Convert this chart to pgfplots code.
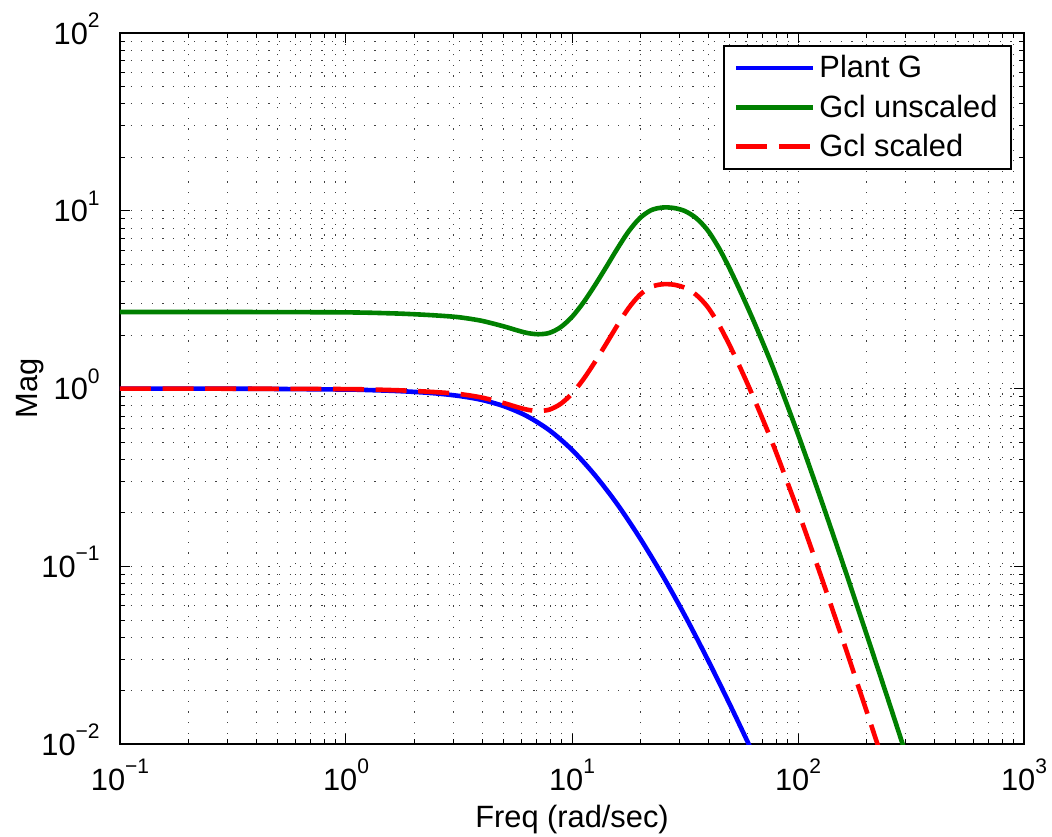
\documentclass[border=0pt]{standalone}
\usepackage{fontspec}
\setmainfont{Liberation Sans}
\usepackage{pgfplots}
\pgfplotsset{compat=1.18}
\definecolor{mgreen}{rgb}{0,0.5,0}
\newcommand\fs{\fontsize{15.4}{18}\selectfont}
\newcommand\tkl[1]{10\raisebox{8.3pt}{\fontsize{10.5}{10.5}\selectfont #1}}
\begin{document}
\begin{tikzpicture}
\useasboundingbox (-60pt,-45.85pt) rectangle (466pt,372.15pt);
\begin{axis}[
  at={(0,0)}, anchor=south west,
  scale only axis, width=452pt, height=355.65pt,
  xmode=log, ymode=log,
  xmin=0.1, xmax=1000, ymin=0.01, ymax=100,
  xtick={0.1,1,10,100,1000},
  xticklabels={\tkl{−1},\tkl{0},\tkl{1},\tkl{2},\tkl{3}},
  ytick={0.01,0.1,1,10,100},
  yticklabels={\tkl{−2},\tkl{−1},\tkl{0},\tkl{1},\tkl{2}},
  minor xtick={0.2,0.3,0.4,0.5,0.6,0.7,0.8,0.9,2,3,4,5,6,7,8,9,20,30,40,50,60,70,80,90,200,300,400,500,600,700,800,900},
  minor ytick={0.02,0.03,0.04,0.05,0.06,0.07,0.08,0.09,0.2,0.3,0.4,0.5,0.6,0.7,0.8,0.9,2,3,4,5,6,7,8,9,20,30,40,50,60,70,80,90},
  tick label style={font=\fs, inner sep=0pt},
  xticklabel style={anchor=base, yshift=-22.9pt},
  yticklabel style={anchor=base east, xshift=-10pt, yshift=-5.5pt},
  xlabel={Freq (rad/sec)}, ylabel={Mag},
  label style={font=\fs, inner sep=0pt},
  xlabel style={at={(axis description cs:0.5,-0.1163)}, anchor=base},
  ylabel style={at={(axis description cs:-0.0918,0.5)}, anchor=base},
  grid=both,
  major grid style={black!75, line width=0.5pt, dash pattern=on 0.6pt off 4.7pt},
  minor grid style={black!75, line width=0.5pt, dash pattern=on 0.6pt off 4.7pt},
  tick align=inside,
  major tick length=5pt, minor tick length=2.5pt,
  every tick/.style={black, line width=0.5pt},
  axis line style={line width=0.9pt},
  legend cell align=left,
  legend image code/.code={\draw[#1] (0pt,0pt) -- (38.5pt,0pt);},
  legend style={at={(1,1)}, anchor=north east, xshift=-6pt, yshift=-6pt,
    font=\fs, draw=black, line width=0.9pt, inner xsep=4.8pt, inner ysep=2.75pt,
    row sep=3pt},
]
\addplot[blue, line width=2.3pt, smooth] coordinates {
(0.1,1.0) (0.31623,0.9995) (1,0.98855) (1.2589,0.98175) (1.5849,0.97275)
(1.9953,0.95940) (2.5119,0.93972) (3.1623,0.90991) (3.9811,0.86497)
(5.0119,0.79616) (6.3096,0.70146) (7.9433,0.58345) (10,0.45290)
(12.589,0.32810) (15.849,0.22439) (19.953,0.14488) (25.119,0.089331)
(31.623,0.052845) (39.811,0.030061) (50.119,0.016596) (63.096,0.0089536)
(79.433,0.0047534)};
\addlegendentry{Plant G}
\addplot[mgreen, line width=2.3pt, smooth] coordinates {
(0.1,2.700) (0.31623,2.698) (1,2.6853) (1.5849,2.652) (1.9953,2.622)
(2.5119,2.580) (3.1623,2.521) (3.9811,2.408) (5.0119,2.2366) (5.6234,2.141)
(6.3096,2.0587) (7.0795,2.0235) (7.9433,2.0587) (8.9125,2.2187) (10,2.5328)
(11.220,3.0451) (12.589,3.7896) (14.125,4.7984) (15.849,6.1109) (17.783,7.6489)
(19.953,9.0907) (22.387,10.083) (25.119,10.437) (28.184,10.378) (31.623,9.9678)
(35.481,9.0907) (39.811,7.7821) (44.668,6.1816) (50.119,4.6623) (56.234,3.4166)
(63.096,2.4609) (70.795,1.7422) (79.433,1.2123) (100,0.55407) (125.89,0.24188)
(158.49,0.10271) (199.53,0.042815) (251.19,0.017644) (316.23,0.0071879)};
\addlegendentry{Gcl unscaled}
\addplot[red, line width=2.3pt, dash pattern=on 15.5pt off 5.8pt, smooth] coordinates {
(0.1,1.0) (0.31623,0.9993) (1,0.99449) (1.5849,0.98220) (1.9953,0.97096)
(2.5119,0.95544) (3.1623,0.93371) (3.9811,0.89166) (5.0119,0.82850) (5.6234,0.79290)
(6.3096,0.76246) (7.0795,0.74940) (7.9433,0.76246) (8.9125,0.82184) (10,0.93802)
(11.220,1.1276) (12.589,1.4036) (14.125,1.7770) (15.849,2.2631) (17.783,2.8332)
(19.953,3.3668) (22.387,3.7345) (25.119,3.8657) (28.184,3.8435) (31.623,3.6918)
(35.481,3.3666) (39.811,2.8831) (44.668,2.2890) (50.119,1.7267) (56.234,1.2655)
(63.096,0.91135) (70.795,0.64525) (79.433,0.44895) (100,0.20520) (125.89,0.089578)
(158.49,0.038036) (199.53,0.015856) (251.19,0.0065331)};
\addlegendentry{Gcl scaled}
\end{axis}
\end{tikzpicture}
\end{document}
